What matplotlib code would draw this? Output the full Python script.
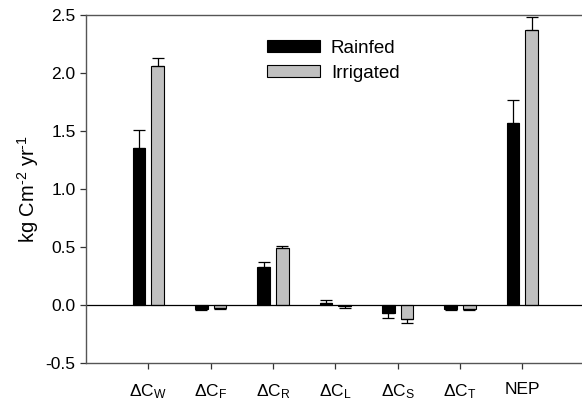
import numpy as np
import matplotlib
matplotlib.use("Agg")
import matplotlib.pyplot as plt

plt.rcParams['font.family'] = ['Liberation Sans', 'DejaVu Sans']
plt.rcParams['mathtext.fontset'] = 'custom'
plt.rcParams['mathtext.rm'] = 'Liberation Sans'
plt.rcParams['mathtext.it'] = 'Liberation Sans:italic'

# carbon budget components
labels = ['ΔC$_\\mathrm{W}$', 'ΔC$_\\mathrm{F}$', 'ΔC$_\\mathrm{R}$', 'ΔC$_\\mathrm{L}$',
          'ΔC$_\\mathrm{S}$', 'ΔC$_\\mathrm{T}$', 'NEP']
rainfed = [1.35, -0.035, 0.33, 0.02, -0.07, -0.035, 1.57]
rainfed_err = [0.16, 0.005, 0.04, 0.02, 0.04, 0.005, 0.20]
irrigated = [2.06, -0.03, 0.49, -0.01, -0.12, -0.035, 2.37]
irrigated_err = [0.07, 0.005, 0.02, 0.015, 0.035, 0.005, 0.11]

fig = plt.figure(figsize=(5.82, 4.03), dpi=100)
ax = fig.add_axes([86 / 582, 1 - 363 / 403, 1 - 86 / 582 + 0.01, 348 / 403])

x = np.arange(len(labels))
w = 0.2


def one_sided(vals, errs):
    up = [e if v >= 0 else 0 for v, e in zip(vals, errs)]
    dn = [e if v < 0 else 0 for v, e in zip(vals, errs)]
    return [dn, up]


ax.bar(x - 0.15, rainfed, w, color='black', edgecolor='black', linewidth=0.8,
       yerr=one_sided(rainfed, rainfed_err),
       error_kw=dict(ecolor='black', elinewidth=0.9, capsize=4.3, capthick=0.9),
       label='Rainfed')
ax.bar(x + 0.15, irrigated, w, color='#c0c0c0', edgecolor='black', linewidth=0.8,
       yerr=one_sided(irrigated, irrigated_err),
       error_kw=dict(ecolor='black', elinewidth=0.9, capsize=4.3, capthick=0.9),
       label='Irrigated')

ax.axhline(0, color='black', linewidth=0.9)

ax.set_xlim(-1, 7.05)
ax.set_ylim(-0.5, 2.5)
ax.set_yticks(np.arange(-0.5, 2.51, 0.5))
ax.set_yticklabels(['%.1f' % v for v in np.arange(-0.5, 2.51, 0.5)], fontsize=12.5)
ax.set_xticks(x)
ax.set_xticklabels(labels, fontsize=12.5)
ax.tick_params(axis='both', direction='out', length=4, width=0.9, color='#333333')
ax.tick_params(axis='x', pad=10)
ax.spines['right'].set_visible(False)
for s in ['left', 'top', 'bottom']:
    ax.spines[s].set_color('#555555')
    ax.spines[s].set_linewidth(1.0)

ax.set_ylabel('kg Cm$^{\\text{-2}}$ yr$^{\\text{-1}}$', fontsize=14.5, labelpad=3)

ax.legend(loc='upper left', bbox_to_anchor=(0.361, 0.928), frameon=False,
          fontsize=13.5, handlelength=2.8, handleheight=0.6, labelspacing=0.42,
          handletextpad=0.6, borderaxespad=0, borderpad=0)

fig.savefig('out.png', dpi=100)
